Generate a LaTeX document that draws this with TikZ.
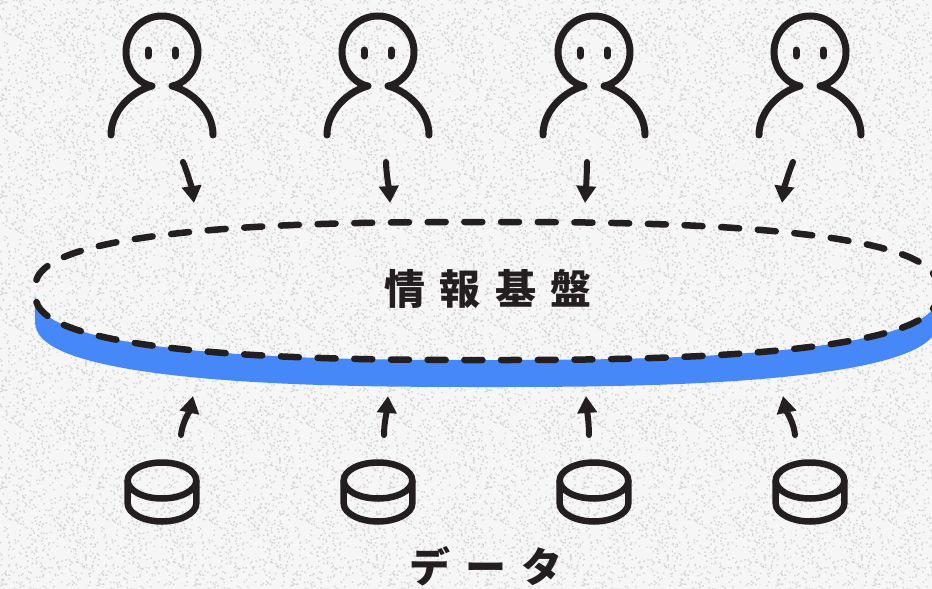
\documentclass[tikz,border=0pt]{standalone}
\usepackage{fontspec}
\newfontfamily\cjk{Noto Sans CJK JP}
\usetikzlibrary{arrows.meta,patterns}
\definecolor{ink}{HTML}{231F20}
\definecolor{bluefill}{HTML}{4788F8}
\definecolor{paper}{HTML}{F6F6F6}
\definecolor{speck}{HTML}{D6D6D6}
\pgfmathsetseed{4711}
\pgfdeclarepatternformonly{grain}{\pgfpointorigin}{\pgfqpoint{97pt}{97pt}}{\pgfqpoint{97pt}{97pt}}{
  \foreach \i in {1,...,450}{
    \pgfmathsetmacro{\gx}{97*rnd}
    \pgfmathsetmacro{\gy}{97*rnd}
    \pgfpathrectangle{\pgfqpoint{\gx pt}{\gy pt}}{\pgfqpoint{1.5pt}{1.5pt}}
  }
  \pgfusepath{fill}
}
\tikzset{
  stroke/.style={draw=ink,line width=6.5pt,line cap=round,line join=round},
  bodyline/.style={draw=ink,line width=7pt,line cap=round,line join=round},
  flow/.style={draw=ink,line width=6pt,line cap=round,-{Triangle[length=17pt,width=19pt]}},
  ringdash/.style={draw=ink,line width=6.5pt,line cap=round,dash pattern=on 18pt off 18.7pt,dash phase=27.3pt},
  label/.style={font=\cjk\bfseries\fontsize{41}{48}\selectfont,text=ink,inner sep=0pt},
  person/.pic={
    \draw[bodyline] (-51,83) .. controls (-51,58) and (-29,39) .. (-10,34)
      .. controls (-16,33) and (-21,30) .. (-25.5,25.5)
      -- plot[domain=225:-45,samples=60] ({36*cos(\x)},{-36*sin(\x)})
      .. controls (21,30) and (16,33) .. (10,34)
      .. controls (29,39) and (51,58) .. (51,83);
    \draw[bodyline] (-14,-2) -- (-14,4);
    \draw[bodyline] (13,-2) -- (13,4);
  },
  store/.pic={
    \draw[stroke] (0,0) ellipse [x radius=34.3,y radius=18];
    \draw[stroke] (-34.3,0) -- (-34.3,23)
      .. controls (-34.3,33) and (-18,41) .. (0,41)
      .. controls (18,41) and (34.3,33) .. (34.3,23) -- (34.3,0);
  }
}
\begin{document}
\begin{tikzpicture}[x=1pt,y=-1pt,
  declare function={
    rx(\t)=486.5+451.5*sign(cos(\t))*abs(cos(\t))^0.769;
    ry(\t)=69*abs(sin(\t))^0.769;
  }]
\useasboundingbox (0,0) rectangle (932,589);
\clip (0,0) rectangle (932,589);
\fill[paper] (0,0) rectangle (932,589);
% paper grain
\fill[pattern=grain,pattern color=speck] (0,0) rectangle (932,589);
% blue rim under the ring
\fill[bluefill] plot[domain=179.5:0.5,samples=160] ({rx(\x)},{291+ry(\x)})
  -- plot[domain=0.5:179.5,samples=160] ({rx(\x)},{318+ry(\x)}) -- cycle;
% dashed ring
\draw[ringdash] plot[domain=179.5:0.5,samples=200] ({rx(\x)},{291-ry(\x)});
\draw[ringdash] plot[domain=179.5:0.5,samples=200] ({rx(\x)},{291+ry(\x)});
\node[label] (platform) at (488,289) {情\hspace{14.5pt}報\hspace{14.5pt}基\hspace{14.5pt}盤};
\node[label] (data) at (486,566) {デ\hspace{15pt}ー\hspace{15pt}タ};
% people and stores
\foreach \n/\px in {1/162,2/378,3/594,4/810}{
  \pic at (\px,52) {person};
  \pic at (\px,480.5) {store};
}
% arrows
\coordinate (u1) at (183,162); \coordinate (t1) at (194,203);
\coordinate (u2) at (386,162); \coordinate (t2) at (390,203);
\coordinate (u3) at (587,162); \coordinate (t3) at (585,203);
\coordinate (u4) at (793,162); \coordinate (t4) at (782,203);
\coordinate (d1) at (181,435); \coordinate (b1) at (193,396);
\coordinate (d2) at (384,435); \coordinate (b2) at (388,396);
\coordinate (d3) at (589,435); \coordinate (b3) at (586,396);
\coordinate (d4) at (795,435); \coordinate (b4) at (783,396);
\draw[flow] (u1) .. controls +(4,9) and +(-2,-14) .. (t1);
\draw[flow] (u2) .. controls +(0,10) and +(-1,-14) .. (t2);
\draw[flow] (u3) .. controls +(0,10) and +(1,-14) .. (t3);
\draw[flow] (u4) .. controls +(-4,9) and +(2,-14) .. (t4);
\draw[flow] (d1) .. controls +(1,-12) and +(-3,14) .. (b1);
\draw[flow] (d2) .. controls +(0,-12) and +(-1,14) .. (b2);
\draw[flow] (d3) .. controls +(0,-12) and +(1,14) .. (b3);
\draw[flow] (d4) .. controls +(-1,-12) and +(3,14) .. (b4);
\end{tikzpicture}
\end{document}
